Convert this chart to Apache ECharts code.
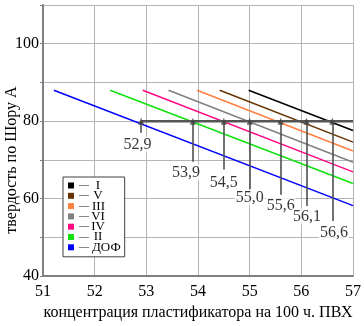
<!DOCTYPE html>
<html><head><meta charset="utf-8">
<script src="https://cdn.jsdelivr.net/npm/echarts@6/dist/echarts.min.js"></script>
<style>html,body{margin:0;padding:0;background:#fff}#c{width:364px;height:326px}</style>
</head><body><div id="c"></div>
<script>
// ---- data ----
const seriesNames = ['I', 'V', 'III', 'VI', 'IV', 'II', 'ДОФ'];
const lineStartX = [54.98, 54.42, 53.98, 53.43, 52.93, 52.30, 51.21];
const lineStartY = [88, 88, 88, 88, 88, 88, 88];
const lineEndX = [57, 57, 57, 57, 57, 57, 57];
const lineEndY = [77.6, 74.6, 72.3, 69.4, 66.9, 63.9, 58.2];
const targetHardness = 80;
const crossX = [52.9, 53.9, 54.5, 55.0, 55.6, 56.1, 56.6];
const dropEndY = [77.0, 69.5, 67.5, 62.4, 61.0, 58.1, 54.2];
const labelAtX = [52.83, 53.77, 54.5, 55.0, 55.6, 56.11, 56.63];
const labelAtY = [74.0, 66.8, 64.1, 60.3, 58.1, 55.4, 51.1];
const yTickLabels = [40, 60, 80, 100];
const xTitle = 'концентрация пластификатора на 100 ч. ПВХ';
const yTitle = 'твердость по Шору А';

// ---- styles ----
const colors = ['#000000', '#663300', '#ff8040', '#808080', '#ff0a84', '#10e010', '#0000ff'];
const FONT = 'Liberation Serif';

const lineSeries = seriesNames.map((n, i) => ({
  name: n,
  type: 'line',
  color: colors[i],
  data: [[lineStartX[i], lineStartY[i]], [lineEndX[i], lineEndY[i]]],
  showSymbol: false,
  symbol: 'none',
  lineStyle: { width: 1.5, color: colors[i] },
  silent: true,
  z: 2
}));

const dropSeries = {
  name: 'drops',
  type: 'line',
  data: [],
  symbol: 'none',
  silent: true,
  z: 3,
  markLine: {
    silent: true,
    symbol: 'none',
    label: { show: false },
    lineStyle: { color: '#505050', width: 1.6, type: 'solid' },
    data: crossX.map((x, i) => [{ coord: [x, targetHardness] }, { coord: [x, dropEndY[i]] }])
  }
};

const hLine = {
  name: 'h80',
  type: 'line',
  data: [[crossX[0], targetHardness], [57, targetHardness]],
  symbol: 'none',
  lineStyle: { color: '#555555', width: 2.6 },
  silent: true,
  z: 4
};

const markers = {
  name: 'marks',
  type: 'scatter',
  data: crossX.map(x => [x, targetHardness]),
  symbol: 'triangle',
  symbolSize: [6, 7],
  itemStyle: { color: '#444444' },
  silent: true,
  z: 5
};

const labels = {
  name: 'labels',
  type: 'scatter',
  data: labelAtX.map((x, i) => ({ value: [x, labelAtY[i]], text: crossX[i].toFixed(1).replace('.', ',') })),
  symbolSize: 0,
  silent: true,
  z: 6,
  label: {
    show: true,
    position: 'inside',
    formatter: p => p.data.text,
    fontFamily: FONT,
    fontSize: 16,
    color: '#000',
    backgroundColor: '#ffffff',
    padding: [0, 1]
  }
};

const chart = echarts.init(document.getElementById('c'), null, { renderer: 'canvas' });
chart.setOption({
  animation: false,
  backgroundColor: '#ffffff',
  grid: { left: 43, right: 11, top: 5, bottom: 49 },
  legend: {
    data: seriesNames,
    orient: 'vertical',
    left: 63,
    top: 177,
    icon: 'rect',
    itemWidth: 6,
    itemHeight: 6,
    itemGap: -2.7,
    padding: [2, 4, 3, 5],
    borderColor: '#404040',
    borderWidth: 1,
    backgroundColor: '#ffffff',
    formatter: n => n.length > 2 ? '{d|—}{w|' + n + '}' : '{d|—}{n|' + n + '}',
    textStyle: {
      fontFamily: FONT,
      fontSize: 13,
      lineHeight: 10,
      color: '#000',
      rich: {
        d: { fontSize: 10, width: 10, align: 'left', lineHeight: 10, color: '#222' },
        n: { fontSize: 13, width: 18, align: 'center', lineHeight: 10, fontFamily: FONT },
        w: { fontSize: 13, width: 28, align: 'left', lineHeight: 10, fontFamily: FONT, padding: [0, 0, 0, 3] }
      }
    }
  },
  xAxis: {
    type: 'value',
    min: 51, max: 57, interval: 1,
    name: xTitle,
    nameLocation: 'middle',
    nameGap: 27,
    nameTextStyle: { fontFamily: FONT, fontSize: 16, color: '#000' },
    axisLine: { show: true, lineStyle: { color: '#808080', width: 2 } },
    axisTick: { show: false },
    axisLabel: { fontFamily: FONT, fontSize: 16, color: '#000', margin: 8 },
    splitLine: { show: true, lineStyle: { color: '#b4b4b4', width: 1 } }
  },
  yAxis: {
    type: 'value',
    min: 40, max: 110, interval: 10,
    axisLine: { show: true, lineStyle: { color: '#808080', width: 2 } },
    axisTick: { show: true, length: 3, lineStyle: { color: '#808080' } },
    axisLabel: {
      fontFamily: FONT, fontSize: 16, color: '#000', margin: 4,
      formatter: v => yTickLabels.includes(v) ? String(v) : ''
    },
    splitLine: { show: true, lineStyle: { color: '#b4b4b4', width: 1 } }
  },
  graphic: [{
    type: 'text',
    x: 12, y: 160,
    rotation: Math.PI / 2,
    style: {
      text: yTitle,
      fontFamily: FONT,
      fontSize: 16,
      fill: '#000',
      align: 'center',
      verticalAlign: 'middle'
    }
  }],
  series: [...lineSeries, dropSeries, hLine, markers, labels]
});
</script>
</body></html>
